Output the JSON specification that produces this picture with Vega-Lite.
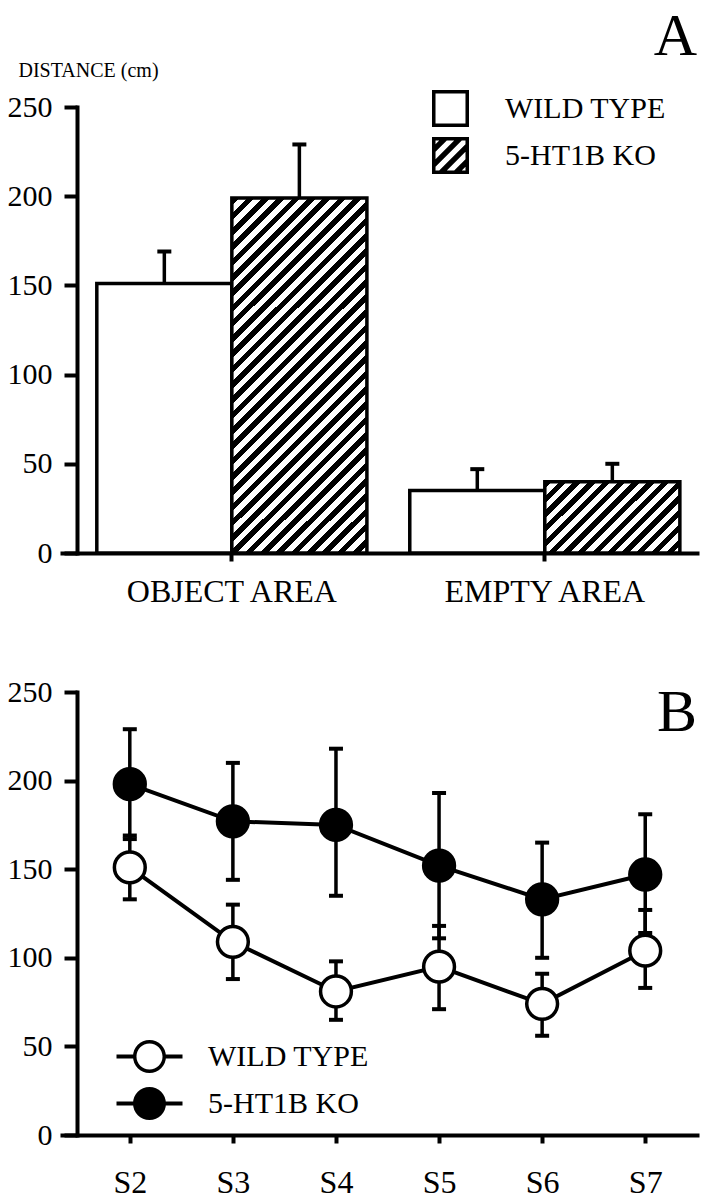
{
  "$schema": "https://vega.github.io/schema/vega-lite/v6.json",
  "background": "white",
  "padding": {"left": 7, "top": 7, "right": 5, "bottom": 0},
  "spacing": 70,
  "resolve": {"scale": {"shape": "independent"}, "legend": {"shape": "independent"}},
  "config": {
    "view": {"stroke": null},
    "font": "Liberation Serif",
    "axis": {"domainColor": "black", "tickColor": "black", "labelColor": "black", "titleColor": "black", "grid": false, "domainWidth": 4, "tickWidth": 4, "labelFontSize": 30, "labelFont": "Liberation Serif", "titleFont": "Liberation Serif", "domainCap": "square", "labelLimit": 0},
    "legend": {"labelFont": "Liberation Serif", "labelFontSize": 30, "labelColor": "black", "labelLimit": 0, "padding": 0},
    "title": {"font": "Liberation Serif", "fontWeight": "normal", "color": "black"}
  },
  "datasets": {
    "bars": [
      {"area": "OBJECT AREA", "group": "WILD TYPE", "mean": 151, "upper": 169},
      {"area": "OBJECT AREA", "group": "5-HT1B KO", "mean": 199, "upper": 229},
      {"area": "EMPTY AREA", "group": "WILD TYPE", "mean": 35, "upper": 47},
      {"area": "EMPTY AREA", "group": "5-HT1B KO", "mean": 40, "upper": 50}
    ],
    "sessions": [
      {"session": "S2", "group": "WILD TYPE", "mean": 151, "lower": 133, "upper": 169},
      {"session": "S3", "group": "WILD TYPE", "mean": 109, "lower": 88, "upper": 130},
      {"session": "S4", "group": "WILD TYPE", "mean": 81, "lower": 65, "upper": 98},
      {"session": "S5", "group": "WILD TYPE", "mean": 95, "lower": 71, "upper": 118},
      {"session": "S6", "group": "WILD TYPE", "mean": 74, "lower": 56, "upper": 91},
      {"session": "S7", "group": "WILD TYPE", "mean": 104, "lower": 83, "upper": 127},
      {"session": "S2", "group": "5-HT1B KO", "mean": 198, "lower": 167, "upper": 229},
      {"session": "S3", "group": "5-HT1B KO", "mean": 177, "lower": 144, "upper": 210},
      {"session": "S4", "group": "5-HT1B KO", "mean": 175, "lower": 135, "upper": 218},
      {"session": "S5", "group": "5-HT1B KO", "mean": 152, "lower": 111, "upper": 193},
      {"session": "S6", "group": "5-HT1B KO", "mean": 133, "lower": 100, "upper": 165},
      {"session": "S7", "group": "5-HT1B KO", "mean": 147, "lower": 114, "upper": 181}
    ]
  },
  "vconcat": [
    {
      "width": 635,
      "height": 446,
      "title": {"text": "A", "anchor": "end", "frame": "group", "fontSize": 60, "offset": -8},
      "data": {"name": "bars"},
      "encoding": {
        "x": {"field": "area", "type": "nominal", "sort": ["OBJECT AREA", "EMPTY AREA"], "title": null,
          "scale": {"paddingInner": 0.137, "paddingOuter": 0.083, "align": 0.67},
          "axis": {"labelAngle": 0, "tickSize": 8, "labelPadding": 15, "bandPosition": 0.5, "labelFontSize": 32}},
        "xOffset": {"field": "group", "type": "nominal", "scale": {"domain": ["WILD TYPE", "5-HT1B KO"], "paddingInner": 0, "paddingOuter": 0}}
      },
      "layer": [
        {
          "transform": [{"filter": "datum.group === 'WILD TYPE'"}],
          "mark": {"type": "bar", "fill": "white", "stroke": "black", "strokeWidth": 3.5},
          "encoding": {
            "y": {"field": "mean", "type": "quantitative", "title": "DISTANCE (cm)",
              "scale": {"domain": [0, 250], "nice": false},
              "axis": {"values": [0, 50, 100, 150, 200, 250], "titleAngle": 0, "titleAlign": "left", "titleBaseline": "alphabetic", "titleX": -59, "titleY": -31, "titleFontSize": 20, "titleFontWeight": "normal", "offset": -15, "tickSize": 13, "labelPadding": 12}}
          }
        },
        {
          "transform": [{"filter": "datum.group === '5-HT1B KO' && datum.area === 'OBJECT AREA'"}],
          "mark": {"type": "bar", "stroke": "black", "strokeWidth": 3.5,
            "fill": {"gradient": "linear", "x1": 0, "y1": 0, "x2": 0.458, "y2": 1.206, "stops": [
              {"offset": 0, "color": "#000"}, {"offset": 0.015625, "color": "#000"}, {"offset": 0.015625, "color": "#fff"}, {"offset": 0.03125, "color": "#fff"},
              {"offset": 0.03125, "color": "#000"}, {"offset": 0.046875, "color": "#000"}, {"offset": 0.046875, "color": "#fff"}, {"offset": 0.0625, "color": "#fff"},
              {"offset": 0.0625, "color": "#000"}, {"offset": 0.078125, "color": "#000"}, {"offset": 0.078125, "color": "#fff"}, {"offset": 0.09375, "color": "#fff"},
              {"offset": 0.09375, "color": "#000"}, {"offset": 0.109375, "color": "#000"}, {"offset": 0.109375, "color": "#fff"}, {"offset": 0.125, "color": "#fff"},
              {"offset": 0.125, "color": "#000"}, {"offset": 0.140625, "color": "#000"}, {"offset": 0.140625, "color": "#fff"}, {"offset": 0.15625, "color": "#fff"},
              {"offset": 0.15625, "color": "#000"}, {"offset": 0.171875, "color": "#000"}, {"offset": 0.171875, "color": "#fff"}, {"offset": 0.1875, "color": "#fff"},
              {"offset": 0.1875, "color": "#000"}, {"offset": 0.203125, "color": "#000"}, {"offset": 0.203125, "color": "#fff"}, {"offset": 0.21875, "color": "#fff"},
              {"offset": 0.21875, "color": "#000"}, {"offset": 0.234375, "color": "#000"}, {"offset": 0.234375, "color": "#fff"}, {"offset": 0.25, "color": "#fff"},
              {"offset": 0.25, "color": "#000"}, {"offset": 0.265625, "color": "#000"}, {"offset": 0.265625, "color": "#fff"}, {"offset": 0.28125, "color": "#fff"},
              {"offset": 0.28125, "color": "#000"}, {"offset": 0.296875, "color": "#000"}, {"offset": 0.296875, "color": "#fff"}, {"offset": 0.3125, "color": "#fff"},
              {"offset": 0.3125, "color": "#000"}, {"offset": 0.328125, "color": "#000"}, {"offset": 0.328125, "color": "#fff"}, {"offset": 0.34375, "color": "#fff"},
              {"offset": 0.34375, "color": "#000"}, {"offset": 0.359375, "color": "#000"}, {"offset": 0.359375, "color": "#fff"}, {"offset": 0.375, "color": "#fff"},
              {"offset": 0.375, "color": "#000"}, {"offset": 0.390625, "color": "#000"}, {"offset": 0.390625, "color": "#fff"}, {"offset": 0.40625, "color": "#fff"},
              {"offset": 0.40625, "color": "#000"}, {"offset": 0.421875, "color": "#000"}, {"offset": 0.421875, "color": "#fff"}, {"offset": 0.4375, "color": "#fff"},
              {"offset": 0.4375, "color": "#000"}, {"offset": 0.453125, "color": "#000"}, {"offset": 0.453125, "color": "#fff"}, {"offset": 0.46875, "color": "#fff"},
              {"offset": 0.46875, "color": "#000"}, {"offset": 0.484375, "color": "#000"}, {"offset": 0.484375, "color": "#fff"}, {"offset": 0.5, "color": "#fff"},
              {"offset": 0.5, "color": "#000"}, {"offset": 0.515625, "color": "#000"}, {"offset": 0.515625, "color": "#fff"}, {"offset": 0.53125, "color": "#fff"},
              {"offset": 0.53125, "color": "#000"}, {"offset": 0.546875, "color": "#000"}, {"offset": 0.546875, "color": "#fff"}, {"offset": 0.5625, "color": "#fff"},
              {"offset": 0.5625, "color": "#000"}, {"offset": 0.578125, "color": "#000"}, {"offset": 0.578125, "color": "#fff"}, {"offset": 0.59375, "color": "#fff"},
              {"offset": 0.59375, "color": "#000"}, {"offset": 0.609375, "color": "#000"}, {"offset": 0.609375, "color": "#fff"}, {"offset": 0.625, "color": "#fff"},
              {"offset": 0.625, "color": "#000"}, {"offset": 0.640625, "color": "#000"}, {"offset": 0.640625, "color": "#fff"}, {"offset": 0.65625, "color": "#fff"},
              {"offset": 0.65625, "color": "#000"}, {"offset": 0.671875, "color": "#000"}, {"offset": 0.671875, "color": "#fff"}, {"offset": 0.6875, "color": "#fff"},
              {"offset": 0.6875, "color": "#000"}, {"offset": 0.703125, "color": "#000"}, {"offset": 0.703125, "color": "#fff"}, {"offset": 0.71875, "color": "#fff"},
              {"offset": 0.71875, "color": "#000"}, {"offset": 0.734375, "color": "#000"}, {"offset": 0.734375, "color": "#fff"}, {"offset": 0.75, "color": "#fff"},
              {"offset": 0.75, "color": "#000"}, {"offset": 0.765625, "color": "#000"}, {"offset": 0.765625, "color": "#fff"}, {"offset": 0.78125, "color": "#fff"},
              {"offset": 0.78125, "color": "#000"}, {"offset": 0.796875, "color": "#000"}, {"offset": 0.796875, "color": "#fff"}, {"offset": 0.8125, "color": "#fff"},
              {"offset": 0.8125, "color": "#000"}, {"offset": 0.828125, "color": "#000"}, {"offset": 0.828125, "color": "#fff"}, {"offset": 0.84375, "color": "#fff"},
              {"offset": 0.84375, "color": "#000"}, {"offset": 0.859375, "color": "#000"}, {"offset": 0.859375, "color": "#fff"}, {"offset": 0.875, "color": "#fff"},
              {"offset": 0.875, "color": "#000"}, {"offset": 0.890625, "color": "#000"}, {"offset": 0.890625, "color": "#fff"}, {"offset": 0.90625, "color": "#fff"},
              {"offset": 0.90625, "color": "#000"}, {"offset": 0.921875, "color": "#000"}, {"offset": 0.921875, "color": "#fff"}, {"offset": 0.9375, "color": "#fff"},
              {"offset": 0.9375, "color": "#000"}, {"offset": 0.953125, "color": "#000"}, {"offset": 0.953125, "color": "#fff"}, {"offset": 0.96875, "color": "#fff"},
              {"offset": 0.96875, "color": "#000"}, {"offset": 0.984375, "color": "#000"}, {"offset": 0.984375, "color": "#fff"}, {"offset": 1, "color": "#fff"}]}},
          "encoding": {"y": {"field": "mean", "type": "quantitative", "title": "DISTANCE (cm)"}}
        },
        {
          "transform": [{"filter": "datum.group === '5-HT1B KO' && datum.area === 'EMPTY AREA'"}],
          "mark": {"type": "bar", "stroke": "black", "strokeWidth": 3.5,
            "fill": {"gradient": "linear", "x1": 0, "y1": 0, "x2": 1.194, "y2": 0.632, "stops": [
              {"offset": 0, "color": "#000"}, {"offset": 0.035714, "color": "#000"}, {"offset": 0.035714, "color": "#fff"}, {"offset": 0.071429, "color": "#fff"},
              {"offset": 0.071429, "color": "#000"}, {"offset": 0.107143, "color": "#000"}, {"offset": 0.107143, "color": "#fff"}, {"offset": 0.142857, "color": "#fff"},
              {"offset": 0.142857, "color": "#000"}, {"offset": 0.178571, "color": "#000"}, {"offset": 0.178571, "color": "#fff"}, {"offset": 0.214286, "color": "#fff"},
              {"offset": 0.214286, "color": "#000"}, {"offset": 0.25, "color": "#000"}, {"offset": 0.25, "color": "#fff"}, {"offset": 0.285714, "color": "#fff"},
              {"offset": 0.285714, "color": "#000"}, {"offset": 0.321429, "color": "#000"}, {"offset": 0.321429, "color": "#fff"}, {"offset": 0.357143, "color": "#fff"},
              {"offset": 0.357143, "color": "#000"}, {"offset": 0.392857, "color": "#000"}, {"offset": 0.392857, "color": "#fff"}, {"offset": 0.428571, "color": "#fff"},
              {"offset": 0.428571, "color": "#000"}, {"offset": 0.464286, "color": "#000"}, {"offset": 0.464286, "color": "#fff"}, {"offset": 0.5, "color": "#fff"},
              {"offset": 0.5, "color": "#000"}, {"offset": 0.535714, "color": "#000"}, {"offset": 0.535714, "color": "#fff"}, {"offset": 0.571429, "color": "#fff"},
              {"offset": 0.571429, "color": "#000"}, {"offset": 0.607143, "color": "#000"}, {"offset": 0.607143, "color": "#fff"}, {"offset": 0.642857, "color": "#fff"},
              {"offset": 0.642857, "color": "#000"}, {"offset": 0.678571, "color": "#000"}, {"offset": 0.678571, "color": "#fff"}, {"offset": 0.714286, "color": "#fff"},
              {"offset": 0.714286, "color": "#000"}, {"offset": 0.75, "color": "#000"}, {"offset": 0.75, "color": "#fff"}, {"offset": 0.785714, "color": "#fff"},
              {"offset": 0.785714, "color": "#000"}, {"offset": 0.821429, "color": "#000"}, {"offset": 0.821429, "color": "#fff"}, {"offset": 0.857143, "color": "#fff"},
              {"offset": 0.857143, "color": "#000"}, {"offset": 0.892857, "color": "#000"}, {"offset": 0.892857, "color": "#fff"}, {"offset": 0.928571, "color": "#fff"},
              {"offset": 0.928571, "color": "#000"}, {"offset": 0.964286, "color": "#000"}, {"offset": 0.964286, "color": "#fff"}, {"offset": 1, "color": "#fff"}]}},
          "encoding": {"y": {"field": "mean", "type": "quantitative", "title": "DISTANCE (cm)"}}
        },
        {
          "mark": {"type": "rule", "strokeWidth": 3.5, "color": "black"},
          "encoding": {"y": {"field": "mean", "type": "quantitative", "title": "DISTANCE (cm)"}, "y2": {"field": "upper"}}
        },
        {
          "mark": {"type": "tick", "size": 14, "thickness": 4, "color": "black", "opacity": 1},
          "encoding": {"y": {"field": "upper", "type": "quantitative", "title": "DISTANCE (cm)"}}
        },
        {
          "transform": [{"filter": "false"}],
          "mark": {"type": "point", "filled": true, "fill": "black", "strokeWidth": 0, "opacity": 1, "size": 1369},
          "encoding": {
            "y": {"field": "mean", "type": "quantitative", "title": "DISTANCE (cm)"},
            "shape": {"field": "group", "type": "nominal",
              "scale": {"domain": ["WILD TYPE", "5-HT1B KO"], "range": [
                "M-1,-1H1V1H-1ZM-0.81,-0.81V0.81H0.81V-0.81Z",
                "M-1,-1H1V1H-1ZM-0.81,-0.81V0.81H0.81V-0.81ZM-0.81,-0.61L-0.61,-0.81L-0.2,-0.81L-0.81,-0.2ZM-0.81,0.2L0.2,-0.81L0.61,-0.81L-0.81,0.61ZM-0.61,0.81L0.81,-0.61L0.81,-0.2L-0.2,0.81ZM0.2,0.81L0.81,0.2L0.81,0.61L0.61,0.81Z"]},
              "legend": {"title": null, "orient": "none", "legendX": 370, "legendY": -17,
                "symbolSize": 1369, "symbolFillColor": "black", "symbolStrokeWidth": 0, "symbolOpacity": 1,
                "labelOffset": 36, "rowPadding": 10}}
          }
        }
      ]
    },
    {
      "width": 635,
      "height": 443,
      "title": {"text": "B", "anchor": "end", "frame": "group", "fontSize": 60, "offset": 0, "dy": 67},
      "data": {"name": "sessions"},
      "encoding": {
        "x": {"field": "session", "type": "ordinal", "title": null,
          "scale": {"type": "point", "padding": 0.58, "align": 0.567},
          "axis": {"labelAngle": 0, "tickSize": 8, "labelPadding": 24, "labelFontSize": 32}}
      },
      "layer": [
        {
          "mark": {"type": "rule", "strokeWidth": 3.5, "color": "black"},
          "encoding": {
            "y": {"field": "lower", "type": "quantitative", "title": null, "scale": {"domain": [0, 250], "nice": false},
              "axis": {"values": [0, 50, 100, 150, 200, 250], "offset": -15, "tickSize": 13, "labelPadding": 12}},
            "y2": {"field": "upper"},
            "detail": {"field": "group"}
          }
        },
        {
          "mark": {"type": "tick", "size": 14, "thickness": 4, "color": "black", "opacity": 1},
          "encoding": {"y": {"field": "lower", "type": "quantitative", "title": null}}
        },
        {
          "mark": {"type": "tick", "size": 14, "thickness": 4, "color": "black", "opacity": 1},
          "encoding": {"y": {"field": "upper", "type": "quantitative", "title": null}}
        },
        {
          "mark": {"type": "line", "strokeWidth": 4, "color": "black"},
          "encoding": {"y": {"field": "mean", "type": "quantitative", "title": null}, "detail": {"field": "group"}}
        },
        {
          "mark": {"type": "point", "shape": "circle", "filled": true, "size": 950, "stroke": "black", "strokeWidth": 3.5, "opacity": 1},
          "encoding": {
            "y": {"field": "mean", "type": "quantitative", "title": null},
            "color": {"field": "group", "type": "nominal", "scale": {"domain": ["WILD TYPE", "5-HT1B KO"], "range": ["white", "black"]}, "legend": null}
          }
        },
        {
          "transform": [{"filter": "false"}],
          "mark": {"type": "point", "filled": true, "fill": "black", "strokeWidth": 0, "opacity": 1, "size": 1089},
          "encoding": {
            "y": {"field": "mean", "type": "quantitative", "title": null},
            "shape": {"field": "group", "type": "nominal",
              "scale": {"domain": ["WILD TYPE", "5-HT1B KO"], "range": [
                "M1,0C1,0.5523,0.5523,1,0,1C-0.5523,1,-1,0.5523,-1,0C-1,-0.5523,-0.5523,-1,0,-1C0.5523,-1,1,-0.5523,1,0ZM0.79,0C0.79,-0.4363,0.4363,-0.79,0,-0.79C-0.4363,-0.79,-0.79,-0.4363,-0.79,0C-0.79,0.4363,-0.4363,0.79,0,0.79C0.4363,0.79,0.79,0.4363,0.79,0ZM-2.0,-0.12H-0.95V0.12H-2.0ZM0.95,-0.12H2.0V0.12H0.95Z",
                "M1,0C1,0.5523,0.5523,1,0,1C-0.5523,1,-1,0.5523,-1,0C-1,-0.5523,-0.5523,-1,0,-1C0.5523,-1,1,-0.5523,1,0ZM-2.0,-0.12H-0.95V0.12H-2.0ZM0.95,-0.12H2.0V0.12H0.95Z"]},
              "legend": {"title": null, "orient": "none", "legendX": 71, "legendY": 348,
                "symbolSize": 1089, "symbolFillColor": "black", "symbolStrokeWidth": 0, "symbolOpacity": 1,
                "labelOffset": 42, "rowPadding": 14}}
          }
        }
      ]
    }
  ]
}
